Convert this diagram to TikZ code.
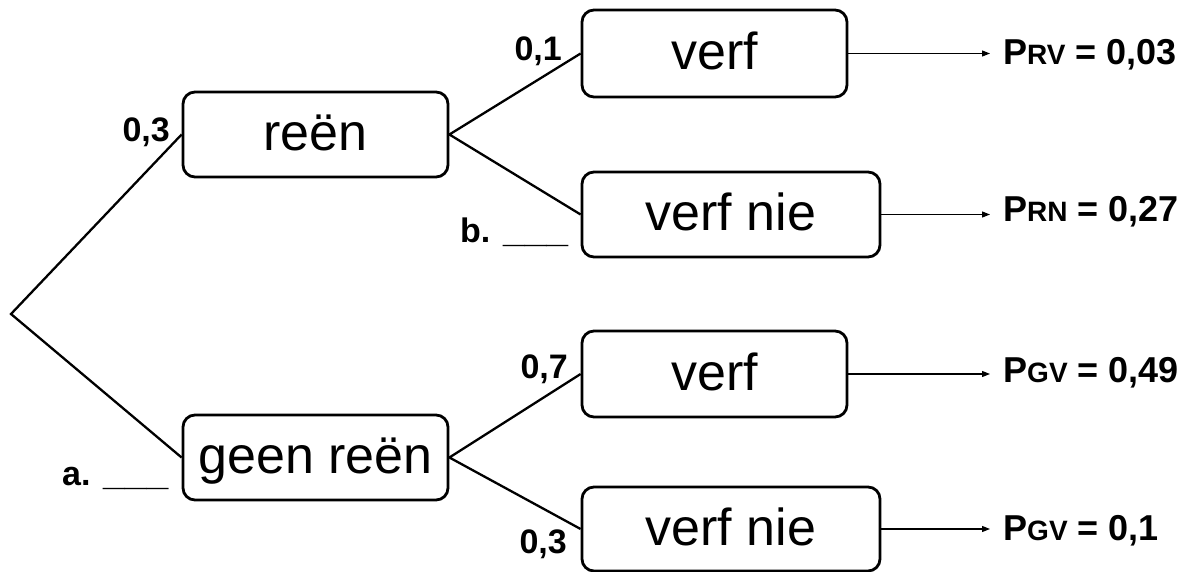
\documentclass[tikz,border=0pt]{standalone}
\usepackage{fontspec}
\setmainfont{Liberation Sans}
\usetikzlibrary{arrows.meta}
\newcommand\subcap[1]{{\fontsize{28}{28}\selectfont #1}}
\newcommand\blankline{\scalebox{1.15}[1]{\_\_\_}}
\begin{document}
\begin{tikzpicture}[x=1pt,y=-1pt,
  box/.style={draw, line width=2.8pt, rounded corners=12pt, inner sep=0pt,
    font=\fontsize{52}{52}\selectfont, text height=41.5pt, text depth=9.5pt},
  branch/.style={line width=2.3pt},
  prob/.style={font=\bfseries\fontsize{34}{34}\selectfont, inner sep=0pt, anchor=base east},
  blank/.style={font=\bfseries\fontsize{34}{34}\selectfont, inner sep=0pt, anchor=base west},
  res/.style={font=\bfseries\fontsize{36}{36}\selectfont, inner sep=0pt, anchor=base west},
  arr/.style={line width=1.2pt, -{Triangle[length=8pt,width=6pt]}, shorten >=13pt}]
\useasboundingbox (0,0) rectangle (1197,572);
\coordinate (root) at (11,314);
\node[box, minimum width=265pt, minimum height=85pt] (r) at (315.5,134.5) {reën};
\node[box, minimum width=265pt, minimum height=85pt] (g) at (315.5,457.5) {geen reën};
\node[box, minimum width=265pt, minimum height=87pt] (rv) at (714.5,53.5) {verf};
\node[box, minimum width=298pt, minimum height=85pt] (rn) at (731,214.5) {verf nie};
\node[box, minimum width=265pt, minimum height=86pt] (gv) at (714.5,374) {verf};
\node[box, minimum width=298pt, minimum height=84pt] (gn) at (731,529) {verf nie};
\draw[branch] (r.west) -- (root) -- (g.west);
\draw[branch] (rv.west) -- (r.east) -- (rn.west);
\draw[branch] (gv.west) -- (g.east) -- (gn.west);
\node[prob] (l1) at (170,142) {0,3};
\node[prob] (l2) at (562,61) {0,1};
\node[blank] (l3) at (460,243) {b. \blankline};
\node[prob] (l4) at (568,378) {0,7};
\node[blank] (l5) at (62,485) {a. \blankline};
\node[prob] (l6) at (567,553) {0,3};
\node[res] (p1) at (1003,65) {P\subcap{RV} = 0,03};
\node[res] (p2) at (1003,222) {P\subcap{RN} = 0,27};
\node[res] (p3) at (1003,382) {P\subcap{GV} = 0,49};
\node[res] (p4) at (1003,540) {P\subcap{GV} = 0,1};
\draw[arr] (rv.east) -- (rv.east -| p1.west);
\draw[arr] (rn.east) -- (rn.east -| p2.west);
\draw[arr] (gv.east) -- (gv.east -| p3.west);
\draw[arr] (gn.east) -- (gn.east -| p4.west);
\end{tikzpicture}
\end{document}
